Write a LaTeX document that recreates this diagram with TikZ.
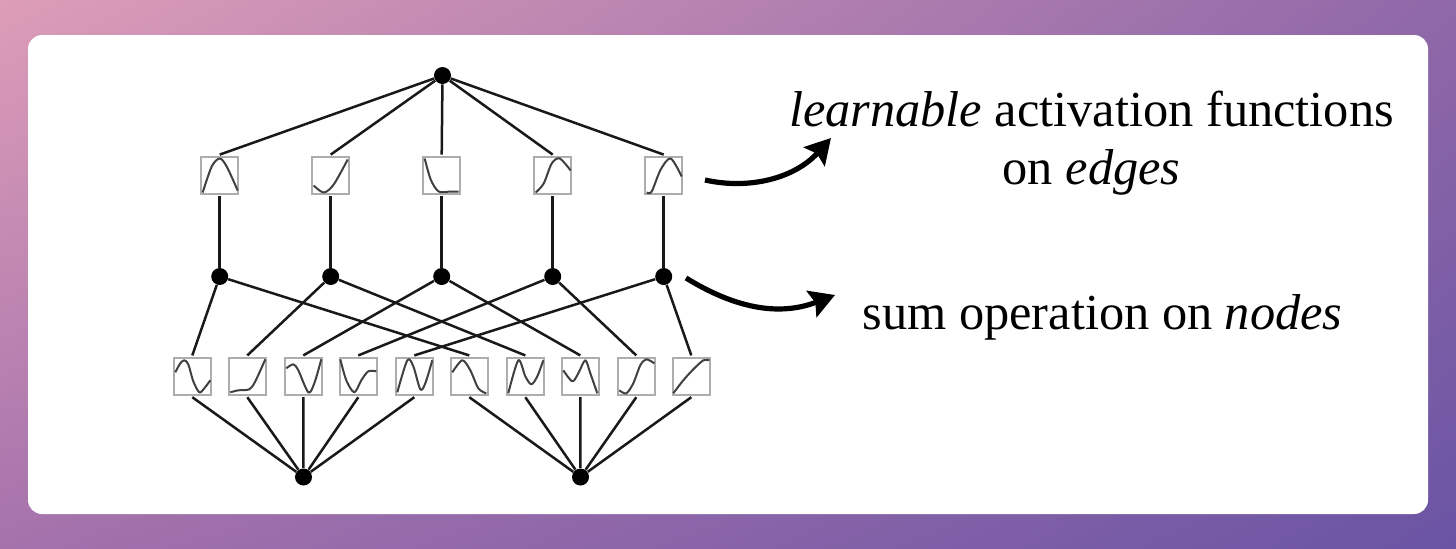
\documentclass[tikz,border=0pt]{standalone}
\usepackage{fontspec}
\setmainfont{Liberation Serif}
\usepackage{xcolor}
\usetikzlibrary{arrows.meta, positioning, calc, shadings}

\definecolor{bgtl}{HTML}{DD9DB8}
\definecolor{bgtr}{HTML}{8F68A8}
\definecolor{bgbl}{HTML}{A572AC}
\definecolor{bgbr}{HTML}{6A54A4}

\tikzset{
  fbox/.style={draw=black!32, line width=0.8pt, fill=white, minimum size=18.5pt, inner sep=0pt, outer sep=1.2pt},
  dot/.style={circle, fill=black, minimum size=8.5pt, inner sep=0pt},
  edge/.style={line width=1.25pt, black!90},
  fcurve/.style={line width=1pt, black!75, line join=round},
  callout/.style={line width=2.6pt, -{Stealth[length=12.5pt, width=14pt, inset=2pt]}},
  label/.style={font=\fontsize{25.2}{29}\selectfont, align=center}
}

\begin{document}
\begin{tikzpicture}[x=0.5pt, y=-0.5pt]
  \useasboundingbox (0,0) rectangle (1456,548);
  \shade[upper left=bgtl, upper right=bgtr, lower left=bgbl, lower right=bgbr] (0,0) rectangle (1456,548);
  \fill[white, rounded corners=7pt] (28,35) rectangle (1428,514);

  % output node and the upper row of functions
  \node[dot] (root) at (442.5,75.5) {};
  \foreach \n/\x in {1/219.7, 2/330.7, 3/441.7, 4/552.7, 5/663.7} {
    \node[fbox] (top\n) at (\x,175.5) {};
    \node[dot] (mid\n) at (\x,276.5) {};
    \draw[edge] (root) -- (top\n.north);
    \draw[edge] (top\n.south) -- (mid\n);
  }

  % input nodes and the lower row of functions
  \node[dot] (inA) at (303.5,477) {};
  \node[dot] (inB) at (580.5,477) {};
  \foreach \n/\x/\m/\i in {1/192.3/1/inA, 2/247.3/2/inA, 3/303.3/3/inA, 4/358.3/4/inA, 5/414.3/5/inA,
                           6/469.3/1/inB, 7/525.3/2/inB, 8/580.3/3/inB, 9/636.3/4/inB, 10/691.3/5/inB} {
    \node[fbox] (low\n) at (\x,376.3) {};
    \draw[edge] (mid\m) -- (low\n.north);
    \draw[edge] (low\n.south) -- (\i);
  }

  % the curves, in pixels from the middle of each box
  \draw[fcurve, shift={(top1)}] plot[smooth] coordinates {(-17,17) (-8,-9) (0,-17) (7,-9) (18,15)};
  \draw[fcurve, shift={(top2)}] plot[smooth] coordinates {(-17,10) (-7,17) (3,9) (17,-16)};
  \draw[fcurve, shift={(top3)}] plot[smooth] coordinates {(-17,-17) (-11,4) (-3,16) (9,16) (17,16)};
  \draw[fcurve, shift={(top4)}] plot[smooth] coordinates {(-17,17) (-9,8) (-1,-12) (7,-17) (18,-5)};
  \draw[fcurve, shift={(top5)}] plot[smooth] coordinates {(-17,17) (-12,16) (-3,-6) (7,-17) (18,1)};
  \draw[fcurve, shift={(low1)}] plot[smooth] coordinates {(-17,-4) (-12,-13) (-8,-16) (-4,-12) (1,5) (7,16) (12,12) (18,4)};
  \draw[fcurve, shift={(low2)}] plot[smooth] coordinates {(-17,16) (-9,14) (2,13) (8,5) (18,-17)};
  \draw[fcurve, shift={(low3)}] plot[smooth] coordinates {(-17,-8) (-10,-12) (-5,-6) (5,16) (11,7) (18,-17)};
  \draw[fcurve, shift={(low4)}] plot[smooth] coordinates {(-18,-17) (-12,4) (-4,16) (3,4) (10,-5) (18,-5)};
  \draw[fcurve, shift={(low5)}] plot[smooth] coordinates {(-17,16) (-7,-16) (-1,-10) (6,13) (11,7) (18,-16)};
  \draw[fcurve, shift={(low6)}] plot[smooth] coordinates {(-17,-4) (-7,-16) (1,-6) (9,12) (17,17)};
  \draw[fcurve, shift={(low7)}] plot[smooth] coordinates {(-17,17) (-7,-16) (0,0) (6,8) (12,0) (18,-16)};
  \draw[fcurve, shift={(low8)}] plot[smooth] coordinates {(-17,-6) (-8,5) (-2,-3) (5,-16) (10,-3) (17,17)};
  \draw[fcurve, shift={(low9)}] plot[smooth] coordinates {(-17,14) (-10,17) (-3,7) (4,-11) (10,-17) (18,-13)};
  \draw[fcurve, shift={(low10)}] plot[smooth] coordinates {(-18,17) (-8,4) (2,-7) (12,-16) (18,-16)};

  % labels and the arrows to them
  \node[label] (edgetext) at (1091.5,143) {\textit{learnable} activation functions\\on \textit{edges}};
  \node[label] (nodetext) at (1102.5,317) {sum operation on \textit{nodes}};
  \coordinate (edgestart) at (705,180);
  \coordinate (edgetip) at (831,138);
  \coordinate (nodestart) at (686,278);
  \coordinate (nodetip) at (835,295);
  \draw[callout] (edgestart) .. controls (750,190) and (795,178) .. (edgetip);
  \draw[callout] (nodestart) .. controls (730,305) and (775,318) .. (nodetip);
\end{tikzpicture}
\end{document}
